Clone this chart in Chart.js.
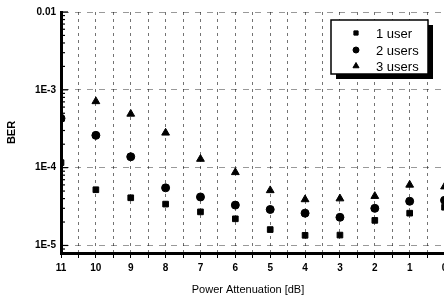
<!DOCTYPE html>
<html>
<head>
<meta charset="utf-8">
<script src="https://cdn.jsdelivr.net/npm/chart.js@4/dist/chart.umd.min.js"></script>
<style>
  html, body { margin:0; padding:0; background:#fff; overflow:hidden; }
  #wrap { width:470px; height:299px; }
</style>
</head>
<body>
<div id="wrap"><canvas id="graficoBER" width="470" height="299"></canvas></div>
<script>
// data
var attenuation = [11, 10, 9, 8, 7, 6, 5, 4, 3, 2, 1, 0];
var ber1user  = [1.16e-4, 5.2e-5, 4.1e-5, 3.4e-5, 2.7e-5, 2.2e-5, 1.6e-5, 1.35e-5, 1.36e-5, 2.1e-5, 2.6e-5, 3.1e-5];
var ber2users = [4.3e-4, 2.6e-4, 1.38e-4, 5.5e-5, 4.2e-5, 3.3e-5, 2.9e-5, 2.6e-5, 2.3e-5, 3.0e-5, 3.7e-5, 3.8e-5];
var ber3users = [null, 7.1e-4, 4.9e-4, 2.8e-4, 1.29e-4, 8.7e-5, 5.1e-5, 3.9e-5, 4.0e-5, 4.3e-5, 6.0e-5, 5.7e-5];
var seriesLabels = ['1 user', '2 users', '3 users'];
var yTickLabels = { '-2': '0.01', '-3': '1E-3', '-4': '1E-4', '-5': '1E-5' };
var xTitle = 'Power Attenuation [dB]';

function pts(arr) {
  var out = [];
  for (var i = 0; i < attenuation.length; i++) {
    if (arr[i] != null) out.push({ x: attenuation[i], y: arr[i] });
  }
  return out;
}

function isMajor(v) {
  var l = Math.log10(v);
  return Math.abs(l - Math.round(l)) < 1e-6;
}

/* ticks on the inside of the y axis, x title, legend box */
var extras = {
  id: 'extras',
  afterDraw: function(chart) {
    var ctx = chart.ctx, y = chart.scales.y, area = chart.chartArea;
    ctx.save();
    ctx.strokeStyle = '#000';
    ctx.lineWidth = 1.2;
    y.ticks.forEach(function(t) {
      var py = y.getPixelForValue(t.value);
      var len = isMajor(t.value) ? 7 : 4;
      ctx.beginPath();
      ctx.moveTo(area.left, py);
      ctx.lineTo(area.left + len, py);
      ctx.stroke();
    });

    // x axis title (sits a bit left of the plot centre in the original)
    ctx.fillStyle = '#000';
    ctx.font = '11px "Liberation Sans", Arial, sans-serif';
    ctx.textAlign = 'center';
    ctx.textBaseline = 'middle';
    ctx.fillText(xTitle, 248, 290);

    // legend
    var bx = 331, by = 20, bw = 97, bh = 54;
    ctx.fillStyle = '#000';
    ctx.fillRect(bx + 5, by + 5, bw, bh);
    ctx.fillStyle = '#fff';
    ctx.fillRect(bx, by, bw, bh);
    ctx.lineWidth = 1.5;
    ctx.strokeRect(bx, by, bw, bh);
    ctx.font = '13px "Liberation Sans", Arial, sans-serif';
    ctx.textAlign = 'left';
    var rows = [33, 50, 66];
    chart.data.datasets.forEach(function(ds, i) {
      ctx.fillStyle = '#000';
      ctx.strokeStyle = '#000';
      ctx.lineWidth = 1;
      Chart.helpers.drawPoint(ctx, {
        pointStyle: ds.pointStyle, radius: ds.pointRadius - 1, borderWidth: 1
      }, 356, rows[i]);
      ctx.fillStyle = '#000';
      ctx.fillText(seriesLabels[i], 376, rows[i] + 1);
    });
    ctx.restore();
  }
};

var ctx = document.getElementById('graficoBER').getContext('2d');
var berChart = new Chart(ctx, {
  type: 'scatter',
  data: {
    datasets: [{
      label: seriesLabels[0],
      data: pts(ber1user),
      pointStyle: 'rect',
      pointRadius: 4,
      backgroundColor: '#000',
      borderColor: '#000'
    }, {
      label: seriesLabels[1],
      data: pts(ber2users),
      pointStyle: 'circle',
      pointRadius: 4,
      backgroundColor: '#000',
      borderColor: '#000'
    }, {
      label: seriesLabels[2],
      data: pts(ber3users),
      pointStyle: 'triangle',
      pointRadius: 4.5,
      backgroundColor: '#000',
      borderColor: '#000'
    }]
  },
  options: {
    responsive: false,
    animation: false,
    layout: { padding: { left: 0, top: 12, right: 15, bottom: 0 } },
    plugins: { legend: { display: false }, tooltip: { enabled: false } },
    scales: {
      x: {
        type: 'linear',
        reverse: true,
        min: -0.3,
        max: 11,
        afterBuildTicks: function(scale) {
          var t = [];
          for (var v = 0; v <= 11; v += 0.5) t.push({ value: v });
          scale.ticks = t;
        },
        afterFit: function(scale) { scale.height = 46; },
        border: { color: '#000', width: 3, dash: [3, 4] },
        grid: {
          color: 'rgba(0,0,0,0.55)',
          lineWidth: 1,
          tickLength: 5,
          tickColor: '#000'
        },
        ticks: {
          color: '#000',
          padding: 4,
          maxRotation: 0,
          autoSkip: false,
          font: { family: '"Liberation Sans", Arial, sans-serif', size: 10, weight: 'bold' },
          callback: function(v) { return Number.isInteger(v) ? String(v) : ''; }
        },
        title: { display: false }
      },
      y: {
        type: 'logarithmic',
        min: 8e-6,
        max: 0.01,
        afterBuildTicks: function(scale) {
          var t = [{ value: 8e-6 }, { value: 9e-6 }];
          for (var e = -5; e <= -3; e++) {
            for (var m = 1; m <= 9; m++) t.push({ value: m * Math.pow(10, e) });
          }
          t.push({ value: 0.01 });
          scale.ticks = t;
        },
        afterFit: function(scale) { scale.width = 61; },
        border: { color: '#000', width: 3, dash: [6, 6] },
        grid: {
          drawTicks: false,
          color: function(c) {
            return (c.tick && isMajor(c.tick.value)) ? 'rgba(0,0,0,0.4)' : 'rgba(0,0,0,0)';
          }
        },
        ticks: {
          color: '#000',
          padding: 5,
          autoSkip: false,
          font: { family: '"Liberation Sans", Arial, sans-serif', size: 10, weight: 'bold' },
          callback: function(v) {
            if (!isMajor(v)) return '';
            return yTickLabels[String(Math.round(Math.log10(v)))] || '';
          }
        },
        title: {
          display: true,
          text: 'BER',
          color: '#000',
          padding: { top: 5, bottom: 2 },
          font: { family: '"Liberation Sans", Arial, sans-serif', size: 11, weight: 'bold' }
        }
      }
    }
  },
  plugins: [extras]
});
</script>
</body>
</html>
